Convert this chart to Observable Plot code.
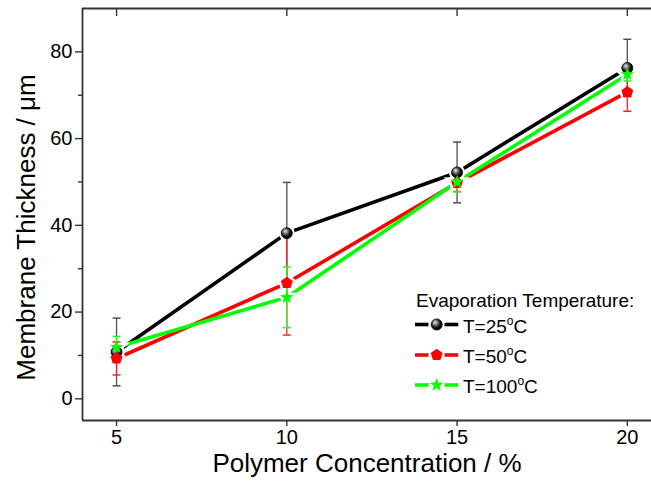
<!DOCTYPE html>
<html><head><meta charset="utf-8">
<script src="https://cdn.jsdelivr.net/npm/d3@7"></script>
<script src="https://cdn.jsdelivr.net/npm/@observablehq/plot@0.6"></script>
<style>
body{margin:0;background:#fff;}
#chart svg{display:block;}
</style>
</head><body><div id="chart"></div>
<script>
// ---- data ----
const concentrations = [5, 10, 15, 20];
const seriesNames = ["T=25", "T=50", "T=100"];
const thickness25 = [10.8, 38.2, 52.2, 76.3];
const error25 = [7.8, 11.7, 7.0, 6.6];
const thickness50 = [9.3, 26.7, 49.8, 70.7];
const error50 = [3.8, 12.0, 2.0, 4.4];
const thickness100 = [11.9, 23.4, 50.0, 74.8];
const error100 = [2.5, 7.0, 2.3, 1.5];
const xTicks = [5, 10, 15, 20];
const yTicks = [0, 20, 40, 60, 80];
const yMinorTicks = [10, 30, 50, 70];
const xDomain = [4, 20.71];
const yDomain = [-5, 90];
const xLabel = "Polymer Concentration / %";
const yLabel = "Membrane Thickness / μm";
const legendTitle = "Evaporation Temperature:";

const seriesColors = ["#000000", "#ff0000", "#00ff00"];
const errColors = ["#505050", "#ff2020", "#20ff20"];
const values = [thickness25, thickness50, thickness100];
const errors = [error25, error50, error100];

// ---- symbols ----
const pentagon = {draw(ctx, size) {
  const R = Math.sqrt(size / Math.PI);
  for (let i = 0; i < 5; i++) {
    const a = -Math.PI / 2 + i * 2 * Math.PI / 5;
    const px = R * Math.cos(a), py = R * Math.sin(a);
    if (i === 0) ctx.moveTo(px, py); else ctx.lineTo(px, py);
  }
  ctx.closePath();
}};
const star = {draw(ctx, size) {
  const R = Math.sqrt(size / Math.PI), r = R * 0.42;
  for (let i = 0; i < 10; i++) {
    const a = -Math.PI / 2 + i * Math.PI / 5;
    const rr = i % 2 ? r : R;
    const px = rr * Math.cos(a), py = rr * Math.sin(a);
    if (i === 0) ctx.moveTo(px, py); else ctx.lineTo(px, py);
  }
  ctx.closePath();
}};
const ball = {draw(ctx, size) {
  const R = Math.sqrt(size / Math.PI);
  ctx.moveTo(R, 0); ctx.arc(0, 0, R, 0, 2 * Math.PI);
}};
const cap = {draw(ctx, size) {
  const R = Math.sqrt(size / Math.PI);
  ctx.moveTo(-R, 0); ctx.lineTo(R, 0);
}};
const symbols = [ball, pentagon, star];
const symbolR = [5.5, 6.3, 7];
const markerFill = ["url(#ball)", "#ff0000", "#00ff00"];

const rows = seriesNames.flatMap((s, i) => concentrations.map((c, j) => ({
  series: s, si: i, x: c, y: values[i][j], err: errors[i][j]
})));

const frameColor = "#333";
const marks = [
  Plot.ruleY([yDomain[0], yDomain[1]], {stroke: frameColor, strokeWidth: 1.8}),
  Plot.ruleX([xDomain[0]], {stroke: frameColor, strokeWidth: 1.8}),
  Plot.axisY(yTicks, {tickSize: 7, tickPadding: 3, fontSize: 20, label: null, stroke: frameColor, strokeWidth: 1.4, fill: "#000"}),
  Plot.axisY(yMinorTicks, {tickSize: 4, text: null, label: null, stroke: frameColor, strokeWidth: 1.4}),
  Plot.axisX(xTicks, {tickSize: 6, tickPadding: 3, fontSize: 20, label: null, stroke: frameColor, strokeWidth: 1.4, fill: "#000"}),
  Plot.axisX(xTicks, {anchor: "top", tickSize: 7, dy: 7, text: null, label: null, stroke: frameColor, strokeWidth: 1.4}),
  Plot.line(rows, {x: "x", y: "y", z: "series", stroke: "series", strokeWidth: 3.6})
];
// halos (gap between line and symbol)
seriesNames.forEach((s, i) => {
  marks.push(Plot.dot(rows.filter(d => d.si === i), {x: "x", y: "y", symbol: symbols[i], r: symbolR[i], fill: "white", stroke: "white", strokeWidth: 5}));
});
// error bars
seriesNames.forEach((s, i) => {
  const d = rows.filter(r => r.si === i);
  marks.push(Plot.ruleX(d, {x: "x", y1: r => r.y - r.err, y2: r => r.y + r.err, stroke: errColors[i], strokeWidth: 1.3}));
  marks.push(Plot.dot(d, {x: "x", y: r => r.y + r.err, symbol: cap, r: 4, stroke: errColors[i], strokeWidth: 1.5}));
  marks.push(Plot.dot(d, {x: "x", y: r => r.y - r.err, symbol: cap, r: 4, stroke: errColors[i], strokeWidth: 1.5}));
});
// markers
seriesNames.forEach((s, i) => {
  marks.push(Plot.dot(rows.filter(d => d.si === i), {x: "x", y: "y", symbol: symbols[i], r: symbolR[i], fill: markerFill[i], stroke: i === 0 ? "#000" : "none", strokeWidth: 0.8}));
});
// axis titles
marks.push(Plot.text([xLabel], {frameAnchor: "bottom", textAnchor: "middle", dy: 51, fontSize: 26, fill: "#000"}));
marks.push(Plot.text([yLabel], {frameAnchor: "left", textAnchor: "middle", dx: -56, dy: 13, rotate: -90, fontSize: 26, fill: "#000"}));

const chart = Plot.plot({
  width: 651, height: 488,
  marginLeft: 82, marginRight: 0, marginTop: 8, marginBottom: 68,
  x: {domain: xDomain},
  y: {domain: yDomain},
  color: {domain: seriesNames, range: seriesColors},
  style: {fontFamily: "'Liberation Sans', Arial, sans-serif", fontSize: "20px", color: "#000", background: "#fff", overflow: "visible"},
  marks
});
document.getElementById("chart").append(chart);

// gradient for the black ball symbol
const svg = d3.select(chart);
const defs = svg.insert("defs", ":first-child");
const grad = defs.append("radialGradient").attr("id", "ball")
  .attr("cx", "0.42").attr("cy", "0.4").attr("r", "0.6").attr("fx", "0.35").attr("fy", "0.3");
grad.append("stop").attr("offset", "0").attr("stop-color", "#f0f0f0");
grad.append("stop").attr("offset", "0.3").attr("stop-color", "#8a8a8a");
grad.append("stop").attr("offset", "0.7").attr("stop-color", "#111");
grad.append("stop").attr("offset", "1").attr("stop-color", "#000");

// legend
const lg = svg.append("g").attr("font-family", "'Liberation Sans', Arial, sans-serif")
  .attr("font-size", 19).attr("fill", "#000").attr("text-anchor", "start");
lg.append("text").attr("x", 416).attr("y", 306.5).attr("text-anchor", "start").text(legendTitle);
const rowY = [324.5, 355, 385];
seriesNames.forEach((s, i) => {
  const y = rowY[i];
  lg.append("line").attr("x1", 415).attr("x2", 428.5).attr("y1", y).attr("y2", y).attr("stroke", seriesColors[i]).attr("stroke-width", 3.6);
  lg.append("line").attr("x1", 444.5).attr("x2", 458.3).attr("y1", y).attr("y2", y).attr("stroke", seriesColors[i]).attr("stroke-width", 3.6);
  const p = d3.path();
  symbols[i].draw(p, Math.PI * symbolR[i] * symbolR[i]);
  lg.append("path").attr("d", p.toString()).attr("transform", `translate(436.7,${y})`)
    .attr("fill", markerFill[i]).attr("stroke", i === 0 ? "#000" : "none").attr("stroke-width", 0.8);
  const t = lg.append("text").attr("x", 463).attr("y", y + 8.3).attr("text-anchor", "start");
  t.append("tspan").text(s);
  t.append("tspan").attr("font-size", 12).attr("dy", -8).text("o");
  t.append("tspan").attr("dy", 8).text("C");
});
</script>
</body></html>
